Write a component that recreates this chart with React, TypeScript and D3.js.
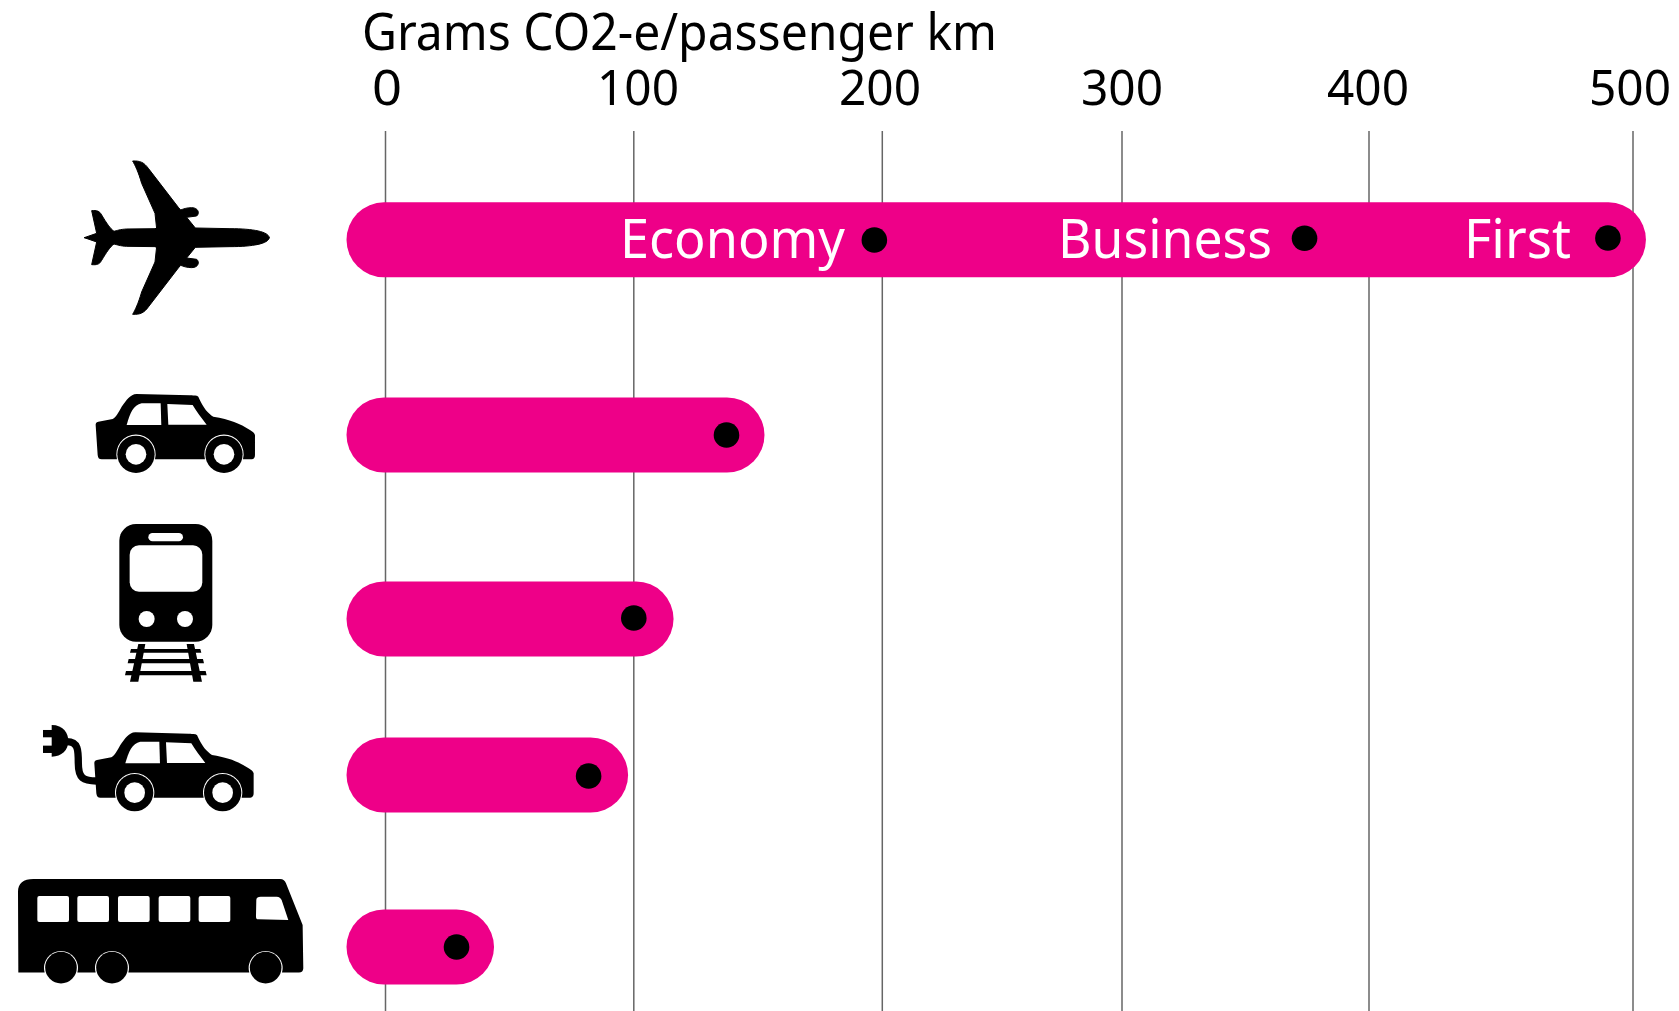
import React from "react";
import * as d3 from "d3";

const tickValues = [0, 100, 200, 300, 400, 500];
const tickPixels = [385.5, 633.8, 882.3, 1122, 1369, 1633];
const tickLabelCentres = [387, 638, 880, 1122, 1368, 1630];
const modes = ["plane", "car", "train", "ecar", "bus"];
const modeDots = [490.5, 137.3, 100, 81.8, 28.6];
const modeBars = [490.5, 137.3, 100.7, 82.4, 28.4];
const rowCentres = [239.8, 435, 619, 775, 947];
const dotRows = [238, 435, 618, 776, 947];
const planeClasses = ["Economy", "Business", "First"];
const planeValues = [196.8, 373.9, 490.5];
const planeDotRows = [240, 238.3, 238];

const W = 1679, H = 1011;
const FONT = "'Noto Sans', sans-serif";
const PINK = "#ee0088";
const x = d3.scaleLinear().domain(tickValues).range(tickPixels);
const y = d3.scaleOrdinal<string, number>().domain(modes).range(rowCentres);

const planeUpper = (m: (v: number) => number) =>
  `C805,${m(305)} 760,${m(296)} 690,${m(296)} L586,${m(294)} L560,${m(262)} L590,${m(258)} C600,${m(250)} 595,${m(233)} 575,${m(233)} C560,${m(233)} 550,${m(237)} 542,${m(240)} L535,${m(232)} L445,${m(115)} C432,${m(97)} 420,${m(92)} 398,${m(93)} C405,${m(105)} 415,${m(125)} 425,${m(160)} L465,${m(250)} L470,${m(296)} L380,${m(297)} C360,${m(298)} 350,${m(302)} 342,${m(304)} C330,${m(295)} 320,${m(280)} 305,${m(255)} C298,${m(242)} 290,${m(241)} 275,${m(242)} L290,${m(310)} L253,323`;
const planeD = (flip: boolean) => "M808,323 " + planeUpper((v) => (flip ? 646 - v : v)) + " Z";

const carBody =
  "M287,885 L293,975 C294,985 298,988 305,988 L351,988 A59,59 0 1 1 465,988 L615,988 A59,59 0 1 1 729,988 L755,988 C762,988 765,982 765,975 L765,915 C763,908 758,905 750,900 C720,880 690,868 640,860 C625,850 610,835 595,800 C590,796 585,797 570,796 L410,792 C390,793 380,810 365,830 C355,848 348,862 338,867 L295,875 C288,877 287,880 287,885 Z";

const Car = () => (
  <g>
    <path d={carBody} fill="#000" />
    <path d="M380,885 C390,850 400,825 425,820 L482,820 L484,885 Z" fill="#fff" />
    <path d="M502,822 L578,825 C590,845 605,865 620,884 L505,884 Z" fill="#fff" />
    {[408, 672].map((cx) => (
      <g key={cx}>
        <circle cx={cx} cy={973} r={56} fill="#000" />
        <circle cx={cx} cy={973} r={31} fill="#fff" />
      </g>
    ))}
  </g>
);

const Icons = () => (
  <g>
    <g transform="translate(0,130) scale(0.3333)">
      <path d={planeD(false)} fill="#000" stroke="#000" strokeWidth={3} strokeLinejoin="round" />
      <path d={planeD(true)} fill="#000" stroke="#000" strokeWidth={3} strokeLinejoin="round" />
      <rect x={465} y={294} width={125} height={58} fill="#000" />
      <Car />
    </g>
    <g transform="translate(0,500) scale(0.3333)">
      <rect x={358} y={72} width={279} height={353} rx={50} fill="#000" />
      <rect x={389} y={136} width={218} height={139} rx={28} fill="#fff" />
      <rect x={445} y={99} width={104} height={25} rx={12.5} fill="#fff" />
      <circle cx={440} cy={357} r={24} fill="#fff" />
      <circle cx={555} cy={357} r={24} fill="#fff" />
      <path d="M415,432 L436,432 L415,545 L390,545 Z M560,432 L582,432 L606,545 L580,545 Z" fill="#000" />
      <path d="M393,447 L601,447 L604,458 L390,458 Z M386,477 L609,477 L612,490 L383,490 Z M378,513 L617,513 L620,526 L375,526 Z" fill="#000" />

      <g transform="translate(-4,-95)"><Car /></g>
      <path d="M200,725 C235,725 235,750 235,790 C235,835 250,843 290,843" fill="none" stroke="#000" strokeWidth={22} />
      <path d="M155,675 C190,675 205,700 205,723 C205,750 185,770 155,770 Z" fill="#000" />
      <rect x={129} y={690} width={30} height={22} fill="#000" />
      <rect x={129} y={737} width={30} height={22} fill="#000" />

      <path
        d="M54,1175 C54,1150 70,1137 100,1137 L840,1137 C850,1137 855,1142 858,1150 L908,1275 L910,1405 C910,1413 905,1418 897,1418 L846,1418 A51,51 0 1 0 748,1418 L385,1418 A51,51 0 1 0 287,1418 L232,1418 A51,51 0 1 0 134,1418 L55,1418 Z"
        fill="#000"
      />
      {[183, 336, 797].map((cx) => (
        <circle key={cx} cx={cx} cy={1403} r={47.5} fill="#000" />
      ))}
      {[112, 232, 354, 476, 596].map((wx) => (
        <rect key={wx} x={wx} y={1188} width={95} height={78} rx={6} fill="#fff" />
      ))}
      <path d="M769,1200 C769,1193 775,1190 782,1190 L830,1190 C838,1190 842,1195 845,1200 L865,1260 L775,1258 C770,1258 768,1255 768,1250 Z" fill="#fff" />
    </g>
  </g>
);

const Label = ({ xs, xe, base, size, fill, children }: any) => (
  <text
    x={xs}
    y={base}
    fontSize={size}
    fill={fill}
    fontFamily={FONT}
    textLength={xe - xs}
    lengthAdjust="spacingAndGlyphs"
  >
    {children}
  </text>
);

const classLabelSpans = [[620, 845], [1058, 1272], [1464, 1571]];
const tickLabelWidth = (t: number) => (t === 0 ? 30 : 82);

export default function App() {
  return (
    <svg width={W} height={H} style={{ position: "absolute", left: 0, top: 0, display: "block", background: "#fff" }}>
      {tickValues.map((t) => (
        <line key={t} x1={x(t)} x2={x(t)} y1={131} y2={H} stroke="#666" strokeWidth={1.5} />
      ))}
      <Label xs={362} xe={997} base={50} size={51} fill="#000">Grams CO2-e/passenger km</Label>
      {tickValues.map((t, i) => (
        <Label key={t} xs={tickLabelCentres[i] - tickLabelWidth(t) / 2} xe={tickLabelCentres[i] + tickLabelWidth(t) / 2} base={105} size={50} fill="#000">
          {t}
        </Label>
      ))}
      {modes.map((m, i) => {
        const left = x(0) - 39;
        const right = x(modeBars[i]) + 38;
        return <rect key={m} x={left} y={y(m)! - 37.5} width={right - left} height={75} rx={37.5} fill={PINK} />;
      })}
      {modes.map((m, i) => {
        if (m === "plane") return null;
        return <circle key={m} cx={x(modeDots[i])} cy={dotRows[i]} r={12.8} fill="#000" />;
      })}
      {planeValues.map((v, i) => (
        <circle key={v} cx={x(v)} cy={planeDotRows[i]} r={12.8} fill="#000" />
      ))}
      {planeClasses.map((c, i) => (
        <Label key={c} xs={classLabelSpans[i][0]} xe={classLabelSpans[i][1]} base={258} size={54} fill="#fff">
          {c}
        </Label>
      ))}
      <Icons />
    </svg>
  );
}
